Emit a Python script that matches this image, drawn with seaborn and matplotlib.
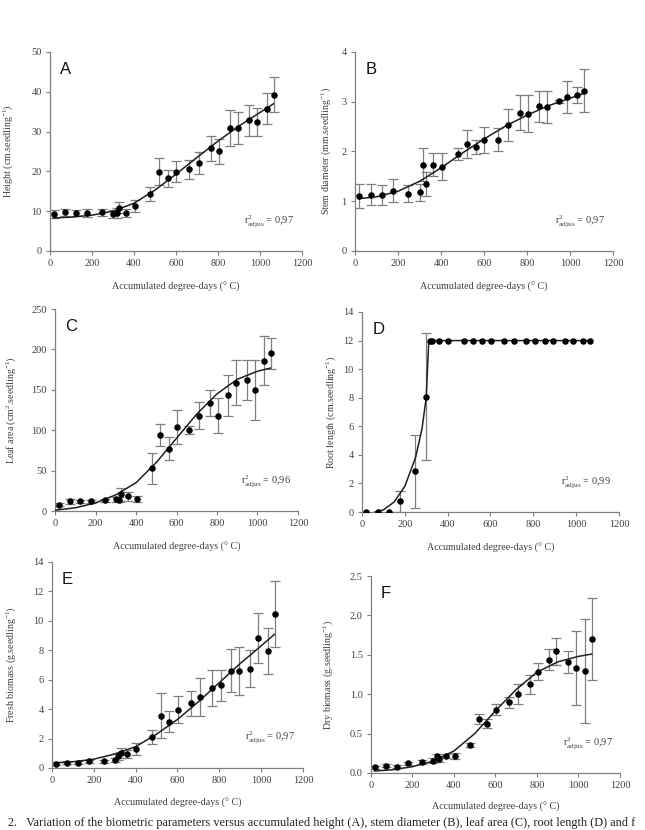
import matplotlib
matplotlib.use("Agg")
import matplotlib.pyplot as plt
import seaborn as sns
import numpy as np

# accumulated degree-days of each sampling
degree_days = [20, 73, 125, 177, 248, 300, 317, 328, 361, 404, 478, 520,
               561, 602, 663, 710, 767, 806, 856, 894, 948, 987, 1032, 1065]

# A - height
height = [9.4, 9.7, 9.6, 9.65, 9.7, 9.2, 9.6, 10.9, 9.65, 11.3, 14.3, 19.9,
          18.3, 19.9, 20.5, 22.1, 25.8, 25.0, 30.9, 30.9, 32.9, 32.4, 35.7, 39.3]
height_err = [1.0, 0.8, 0.8, 1.0, 0.8, 1.0, 1.3, 1.3, 1.0, 1.4, 1.7, 3.4,
              2.1, 2.6, 2.4, 2.8, 3.2, 3.2, 4.4, 4.1, 3.9, 3.6, 3.9, 4.3]
height_fit_x = [15, 100, 200, 300, 400, 500, 600, 700, 800, 900, 1000, 1065]
height_fit_y = [8.3, 8.5, 9.0, 10.0, 12.0, 15.3, 19.3, 23.5, 27.6, 31.4, 34.8, 37.0]

# B - stem diameter
stem = [1.11, 1.13, 1.13, 1.21, 1.15, 1.18, 1.73, 1.34, 1.73, 1.69, 1.95, 2.15,
        2.09, 2.23, 2.24, 2.54, 2.78, 2.76, 2.91, 2.90, 3.01, 3.10, 3.14, 3.22]
stem_err = [0.24, 0.21, 0.20, 0.23, 0.17, 0.17, 0.33, 0.24, 0.23, 0.27, 0.12, 0.29,
            0.14, 0.27, 0.23, 0.32, 0.35, 0.37, 0.31, 0.32, 0.03, 0.32, 0.16, 0.43]
stem_fit_x = [15, 100, 200, 300, 400, 500, 600, 700, 800, 900, 1000, 1065]
stem_fit_y = [1.05, 1.09, 1.20, 1.40, 1.67, 1.97, 2.25, 2.51, 2.73, 2.92, 3.07, 3.17]

# C - leaf area
leaf = [7.8, 12, 12, 12, 13.2, 14.5, 14, 21, 18, 15, 53, 94,
        77, 104, 100, 118, 134, 118, 143, 159, 162, 150, 186, 195]
leaf_err = [2, 3, 2, 2, 2, 3, 3, 8, 6, 4, 19, 14,
            14, 21, 5, 17, 16, 22, 25, 28, 25, 37, 30, 19]
leaf_fit_x = [0, 100, 200, 300, 400, 500, 600, 700, 800, 900, 1000, 1065]
leaf_fit_y = [1, 4, 10, 20, 35, 60, 90, 120, 145, 163, 173, 177]

# D - root length
root = [0, 0, 0, 0.74, 2.84, 8.07, 12, 12, 12, 12, 12, 12,
        12, 12, 12, 12, 12, 12, 12, 12, 12, 12, 12, 12]
root_err = [0, 0, 0, 0.75, 2.56, 4.45, 0, 0, 0, 0, 0, 0,
            0, 0, 0, 0, 0, 0, 0, 0, 0, 0, 0, 0]
root_fit_x = [60, 100, 150, 200, 250, 280, 300, 312, 1065]
root_fit_y = [0, 0.15, 0.7, 1.8, 3.8, 5.8, 8.0, 12, 12]

# E - fresh biomass
fresh = [0.29, 0.36, 0.36, 0.45, 0.45, 0.54, 0.79, 1.02, 0.95, 1.31, 2.11, 3.56,
         3.15, 3.96, 4.39, 4.85, 5.44, 5.62, 6.62, 6.59, 6.75, 8.86, 7.97, 10.44]
fresh_err = [0.1, 0.1, 0.1, 0.1, 0.1, 0.15, 0.25, 0.35, 0.3, 0.4, 0.45, 1.55,
             0.7, 0.9, 0.85, 1.3, 1.2, 1.05, 1.45, 1.6, 1.25, 1.7, 1.55, 2.25]
fresh_fit_x = [15, 100, 200, 300, 400, 500, 600, 700, 800, 900, 1000, 1065]
fresh_fit_y = [0.35, 0.42, 0.6, 0.95, 1.45, 2.3, 3.3, 4.5, 5.8, 7.1, 8.3, 9.1]

# F - dry biomass
dry = [0.072, 0.093, 0.08, 0.123, 0.14, 0.157, 0.21, 0.18, 0.216, 0.216, 0.36, 0.686,
       0.627, 0.805, 0.898, 1.0, 1.127, 1.288, 1.44, 1.542, 1.41, 1.33, 1.30, 1.695]
dry_err = [0.02, 0.02, 0.02, 0.02, 0.02, 0.03, 0.03, 0.04, 0.03, 0.04, 0.025, 0.065,
           0.06, 0.07, 0.07, 0.13, 0.12, 0.11, 0.13, 0.17, 0.14, 0.47, 0.66, 0.52]
dry_fit_x = [15, 100, 200, 300, 400, 500, 600, 700, 800, 900, 1000, 1065]
dry_fit_y = [0.025, 0.04, 0.08, 0.15, 0.28, 0.5, 0.79, 1.06, 1.28, 1.41, 1.48, 1.51]

sns.set_theme(style="ticks")
plt.rcParams['font.family'] = ['Liberation Serif', 'DejaVu Serif']
plt.rcParams['mathtext.fontset'] = 'custom'
plt.rcParams['mathtext.rm'] = 'Liberation Serif'
plt.rcParams['mathtext.it'] = 'Liberation Serif:italic'

grey = '#7f7f7f'
txt = '#404040'

panels = [
    # letter, mean, err, fit x, fit y, ylim, yticks, ylabel, r2, axes rect, ylabel x, xlabel y, ytick fmt
    ('A', height, height_err, height_fit_x, height_fit_y, (0, 50), np.arange(0, 51, 10),
     'Height (cm.seedling$^{-1}$)', '0,97', [0.0775, 0.6976, 0.3907, 0.2398], -0.14, -0.156, '{:.0f}'),
    ('B', stem, stem_err, stem_fit_x, stem_fit_y, (0, 4), np.arange(0, 5, 1),
     'Stem diameter (mm.seedling$^{-1}$)', '0,97', [0.5504, 0.6976, 0.4, 0.2398], -0.085, -0.156, '{:.0f}'),
    ('C', leaf, leaf_err, leaf_fit_x, leaf_fit_y, (0, 250), np.arange(0, 251, 50),
     'Leaf area (cm$^{2}$.seedling$^{-1}$)', '0,96', [0.0853, 0.3843, 0.3767, 0.2434], -0.152, -0.153, '{:.0f}'),
    ('D', root, root_err, root_fit_x, root_fit_y, (0, 14), np.arange(0, 15, 2),
     'Root length (cm.seedling$^{-1}$)', '0,99', [0.5612, 0.3831, 0.3984, 0.241], -0.093, -0.153, '{:.0f}'),
    ('E', fresh, fresh_err, fresh_fit_x, fresh_fit_y, (0, 14), np.arange(0, 15, 2),
     'Fresh biomass (g.seedling$^{-1}$)', '0,97', [0.0806, 0.0747, 0.3891, 0.2482], -0.135, -0.146, '{:.0f}'),
    ('F', dry, dry_err, dry_fit_x, dry_fit_y, (0, 2.5), np.arange(0, 2.51, 0.5),
     'Dry biomass (g.seedling$^{-1}$)', '0,97', [0.5752, 0.0687, 0.386, 0.2373], -0.145, -0.147, '{:.1f}'),
]

fig = plt.figure(figsize=(6.45, 8.3), dpi=100)

for (letter, mean, err, fx, fy, ylim, yticks, ylabel, r2, rect, ylx, xly, yfmt) in panels:
    ax = fig.add_axes(rect)
    x = np.array(degree_days)
    m = np.array(mean)
    e = np.array(err)
    keep = e > 0
    ax.errorbar(x[keep], m[keep], yerr=e[keep], fmt='none', ecolor=grey,
                elinewidth=0.9, capsize=3.5, capthick=0.9, zorder=2)
    sns.lineplot(x=fx, y=fy, ax=ax, color='#202020', linewidth=1.1, sort=False, zorder=3)
    sns.scatterplot(x=x, y=m, ax=ax, color='black', s=22, edgecolor='black',
                    linewidth=0, zorder=4)

    ax.set_xlim(0, 1200)
    ax.set_ylim(*ylim)
    ax.set_xticks(np.arange(0, 1201, 200))
    ax.set_yticks(yticks)
    ax.set_yticklabels([yfmt.format(v) for v in yticks])
    sns.despine(ax=ax)
    for s in ['left', 'bottom']:
        ax.spines[s].set_color(grey)
        ax.spines[s].set_linewidth(0.9)
    ax.tick_params(axis='both', direction='out', length=3, width=0.8, color=grey,
                   labelsize=7.5, labelcolor=txt, pad=3)
    ax.set_xlabel('Accumulated degree-days (° C)', fontsize=7.2, color=txt)
    ax.set_ylabel(ylabel, fontsize=7.2, color=txt)
    ax.yaxis.set_label_coords(ylx, 0.5)
    ax.xaxis.set_label_coords(0.5, xly)

    ax.text(0.04, 0.95, letter, transform=ax.transAxes, family=['Liberation Sans', 'DejaVu Sans'],
            fontsize=12, ha='left', va='top', color='#111111')
    ax.text(0.97, 0.15, r'r$^{2}_{\mathrm{adjus}}$ = ' + r2, transform=ax.transAxes,
            fontsize=7.5, ha='right', va='center', color=txt)

fig.text(0.012, 0.001, '2.   Variation of the biometric parameters versus accumulated height (A), '
         'stem diameter (B), leaf area (C), root length (D) and f',
         fontsize=8.8, ha='left', va='bottom', color='#222222')

fig.savefig('out.png', dpi=100)
